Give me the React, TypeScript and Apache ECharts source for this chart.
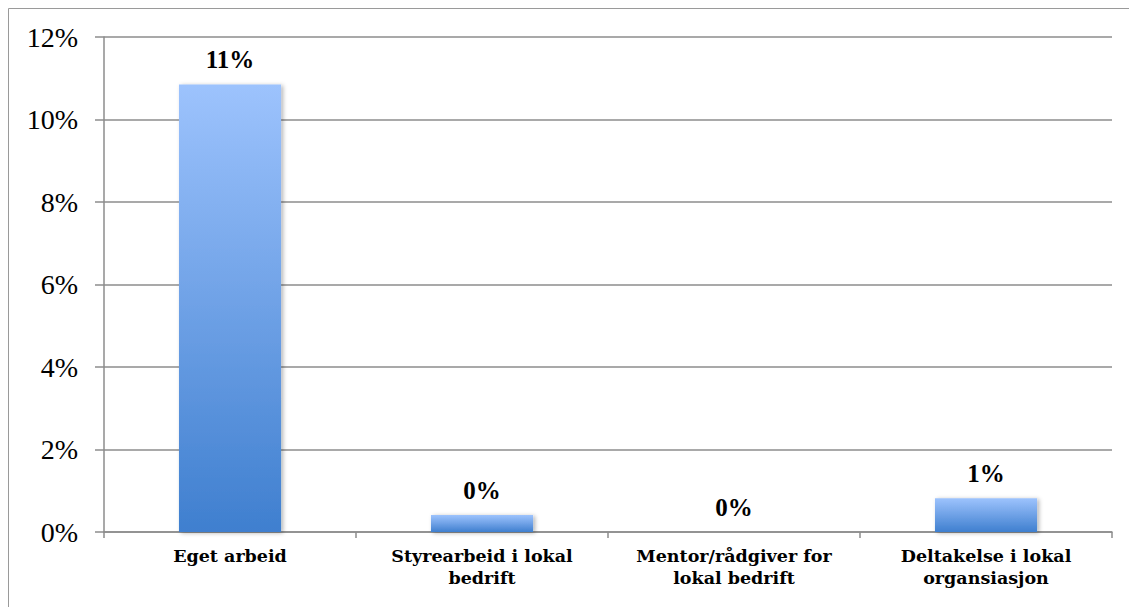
import React, { useEffect, useRef } from "react";
import * as echarts from "echarts";

const categories = [
  "Eget arbeid",
  "Styrearbeid i lokal\nbedrift",
  "Mentor/rådgiver for\nlokal bedrift",
  "Deltakelse i lokal\norgansiasjon",
];
const values = [10.85, 0.41, 0, 0.82];
const yTicks = { min: 0, max: 12, interval: 2 };

export default function App() {
  const ref = useRef<HTMLDivElement>(null);
  useEffect(() => {
    if (!ref.current) return;
    const chart = echarts.init(ref.current, null, { renderer: "svg" });
    const font = "'Liberation Serif', serif";
    const boldFont = "'DejaVu Serif', serif";
    chart.setOption({
      animation: false,
      backgroundColor: "#ffffff",
      graphic: [
        {
          type: "rect",
          shape: { x: 8.5, y: 8.5, width: 1200, height: 700 },
          style: { fill: "none", stroke: "#9a9a9a", lineWidth: 1 },
          silent: true,
        },
      ],
      grid: { left: 104, right: 17, top: 37, bottom: 75 },
      xAxis: {
        type: "category",
        data: categories,
        axisLine: { show: true, lineStyle: { color: "#8c8c8c", width: 1.5 } },
        axisTick: { show: true, length: 6, lineStyle: { color: "#8c8c8c", width: 1.5 } },
        axisLabel: {
          color: "#000",
          fontFamily: boldFont,
          fontWeight: "bold",
          fontSize: 17.5,
          lineHeight: 22,
          margin: 13,
          interval: 0,
        },
      },
      yAxis: {
        type: "value",
        min: yTicks.min,
        max: yTicks.max,
        interval: yTicks.interval,
        axisLine: { show: true, lineStyle: { color: "#8c8c8c", width: 1.5 } },
        axisTick: { show: true, length: 9, lineStyle: { color: "#8c8c8c", width: 1.5 } },
        splitLine: { show: true, lineStyle: { color: "#8c8c8c", width: 1.5 } },
        axisLabel: {
          color: "#000",
          fontFamily: font,
          fontSize: 28,
          margin: 26,
          formatter: "{value}%",
        },
      },
      series: [
        {
          type: "bar",
          data: values,
          barWidth: "40.5%",
          itemStyle: {
            color: new echarts.graphic.LinearGradient(0, 0, 0, 1, [
              { offset: 0, color: "#9dc3fd" },
              { offset: 1, color: "#3f7fcf" },
            ]),
            shadowColor: "rgba(0,0,0,0.3)",
            shadowBlur: 4,
            shadowOffsetX: 2,
            shadowOffsetY: 1,
          },
          label: {
            show: true,
            position: "top",
            distance: 12,
            color: "#000",
            fontFamily: font,
            fontWeight: "bold",
            fontSize: 25,
            formatter: (p: any) => Math.round(p.value) + "%",
          },
        },
      ],
    });
    return () => chart.dispose();
  }, []);
  return (
    <div
      ref={ref}
      style={{ position: "fixed", left: 0, top: 0, width: 1129, height: 607 }}
    />
  );
}
